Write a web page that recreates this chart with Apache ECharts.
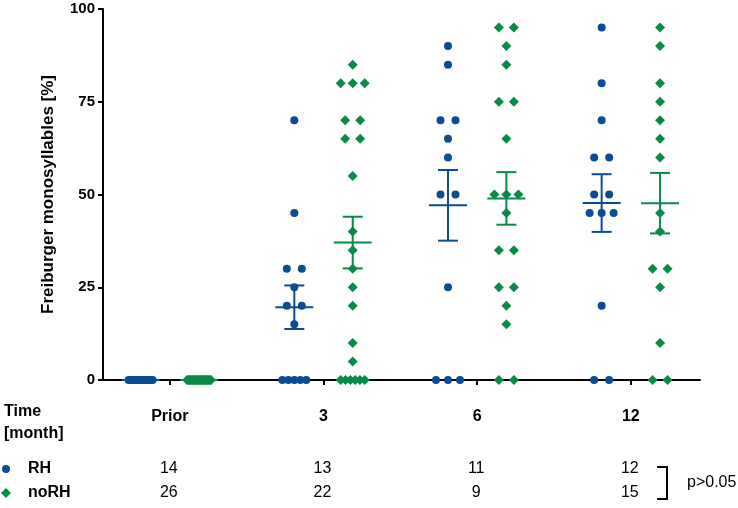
<!DOCTYPE html>
<html>
<head>
<meta charset="utf-8">
<script src="https://cdn.jsdelivr.net/npm/echarts@6/dist/echarts.min.js"></script>
<style>
  body { margin: 0; background: #fff; }
  #chart { width: 738px; height: 508px; }
</style>
</head>
<body>
<div id="chart"></div>
<script>
const groups = ['Prior', '3', '6', '12'];

// Freiburger monosyllables [%] per patient
const rhValues = [
  [0, 0, 0, 0, 0, 0, 0, 0, 0, 0, 0, 0, 0, 0],
  [70, 45, 30, 30, 25, 20, 20, 15, 0, 0, 0, 0, 0],
  [90, 85, 70, 70, 65, 60, 50, 50, 25, 0, 0, 0],
  [95, 80, 70, 60, 60, 50, 50, 45, 45, 45, 20, 0, 0]
];
const noRhValues = [
  [0, 0, 0, 0, 0, 0, 0, 0, 0, 0, 0, 0, 0, 0, 0, 0, 0, 0, 0, 0, 0, 0, 0, 0, 0, 0],
  [85, 80, 80, 80, 70, 70, 65, 65, 55, 40, 35, 30, 25, 20, 10, 5, 0, 0, 0, 0, 0, 0],
  [95, 95, 90, 85, 75, 75, 65, 50, 50, 50, 45, 35, 35, 25, 25, 20, 15, 0, 0],
  [95, 90, 80, 75, 70, 65, 60, 45, 40, 30, 30, 25, 10, 0, 0]
];

// n row of the table under the plot
const rhCounts = [14, 13, 11, 12];
const noRhCounts = [26, 22, 9, 15];
const pText = 'p>0.05';

const BLUE = '#0b4c92';
const GREEN = '#0a8a47';
const FONT = '"Liberation Sans", Arial, sans-serif';

// spread equal values sideways (pixel offsets), like a prism scatter dot plot
function swarm(vals, x) {
  const counts = {};
  vals.forEach(v => { counts[v] = (counts[v] || 0) + 1; });
  const seen = {};
  return vals.map(v => {
    const n = counts[v];
    const k = seen[v] = (seen[v] || 0) + 1;
    const span = n > 1 ? Math.min(15 * (n - 1), 24) : 0;
    const dx = n > 1 ? -span / 2 + (k - 1) * span / (n - 1) : 0;
    return { value: [x, v], symbolOffset: [dx, 0] };
  });
}

function meanSem(vals, x) {
  const n = vals.length;
  const m = vals.reduce((a, b) => a + b, 0) / n;
  const sd = Math.sqrt(vals.reduce((a, b) => a + (b - m) * (b - m), 0) / (n - 1));
  return [x, m, sd / Math.sqrt(n)];
}

const rhPoints = [], noRhPoints = [], rhBars = [], noRhBars = [];
groups.forEach((g, i) => {
  rhPoints.push(...swarm(rhValues[i], i - 0.19));
  noRhPoints.push(...swarm(noRhValues[i], i + 0.19));
  rhBars.push(meanSem(rhValues[i], i - 0.19));
  noRhBars.push(meanSem(noRhValues[i], i + 0.19));
});

function errorBar(color) {
  return function (params, api) {
    const x = api.value(0), m = api.value(1), s = api.value(2);
    const c = api.coord([x, m]);
    const t = api.coord([x, m + s]);
    const b = api.coord([x, m - s]);
    const st = { stroke: color, lineWidth: 2 };
    return {
      type: 'group',
      children: [
        { type: 'line', shape: { x1: c[0] - 19, y1: c[1], x2: c[0] + 19, y2: c[1] }, style: st },
        { type: 'line', shape: { x1: c[0], y1: t[1], x2: c[0], y2: b[1] }, style: st },
        { type: 'line', shape: { x1: c[0] - 10, y1: t[1], x2: c[0] + 10, y2: t[1] }, style: st },
        { type: 'line', shape: { x1: c[0] - 10, y1: b[1], x2: c[0] + 10, y2: b[1] }, style: st }
      ]
    };
  };
}

const chart = echarts.init(document.getElementById('chart'));

chart.setOption({
  animation: false,
  textStyle: { fontFamily: FONT },
  grid: { left: 103, right: 38, top: 9, bottom: 128 },
  xAxis: {
    type: 'value',
    min: -0.435,
    max: 3.45,
    splitLine: { show: false },
    axisLine: { onZero: false, lineStyle: { color: '#000', width: 2 } },
    axisTick: { customValues: [0, 1, 2, 3], length: 5, lineStyle: { color: '#000', width: 2 } },
    axisLabel: {
      customValues: [0, 1, 2, 3],
      formatter: v => groups[Math.round(v)],
      margin: 29,
      color: '#000',
      fontWeight: 'bold',
      fontSize: 16,
      fontFamily: FONT
    }
  },
  yAxis: {
    type: 'value',
    min: 0,
    max: 100,
    interval: 25,
    name: 'Freiburger monosyllables [%]',
    nameLocation: 'middle',
    nameGap: 46,
    nameTextStyle: { color: '#000', fontWeight: 'bold', fontSize: 17, fontFamily: FONT },
    splitLine: { show: false },
    axisLine: { show: true, onZero: false, lineStyle: { color: '#000', width: 2 } },
    axisTick: { show: true, length: 5, lineStyle: { color: '#000', width: 2 } },
    axisLabel: { margin: 8, color: '#000', fontWeight: 'bold', fontSize: 15, fontFamily: FONT }
  },
  series: [
    {
      type: 'scatter',
      name: 'RH',
      symbol: 'circle',
      symbolSize: 8,
      clip: false,
      itemStyle: { color: BLUE, opacity: 1 },
      data: rhPoints
    },
    {
      type: 'scatter',
      name: 'noRH',
      symbol: 'diamond',
      symbolSize: 10,
      clip: false,
      itemStyle: { color: GREEN, opacity: 1 },
      data: noRhPoints
    },
    {
      type: 'custom',
      clip: false,
      z: 3,
      renderItem: errorBar(BLUE),
      data: rhBars
    },
    {
      type: 'custom',
      clip: false,
      z: 3,
      renderItem: errorBar(GREEN),
      data: noRhBars
    }
  ]
});

// table under the plot
const colX = groups.map((g, i) => chart.convertToPixel({ xAxisIndex: 0 }, i));
const rowRH = 469, rowNo = 493;
const bold = { fontFamily: FONT, fontWeight: 'bold', fontSize: 16, fill: '#000', textVerticalAlign: 'middle' };
const plain = { fontFamily: FONT, fontSize: 16, fill: '#000', textVerticalAlign: 'middle', textAlign: 'center' };

const graphics = [
  { type: 'text', left: 4, top: 404, style: Object.assign({ text: 'Time' }, bold) },
  { type: 'text', left: 4, top: 426, style: Object.assign({ text: '[month]' }, bold) },
  { type: 'circle', shape: { cx: 6, cy: rowRH, r: 4 }, style: { fill: BLUE } },
  { type: 'polygon', shape: { points: [[6, rowNo - 5], [11, rowNo], [6, rowNo + 5], [1, rowNo]] }, style: { fill: GREEN } },
  { type: 'text', x: 28, y: rowRH, style: Object.assign({ text: 'RH' }, bold) },
  { type: 'text', x: 28, y: rowNo, style: Object.assign({ text: 'noRH' }, bold) },
  {
    type: 'polyline',
    shape: { points: [[657, 467], [667, 467], [667, 499], [657, 499]] },
    style: { stroke: '#000', lineWidth: 2, fill: null }
  },
  { type: 'text', x: 687, y: 483, style: { text: pText, fontFamily: FONT, fontSize: 16, fill: '#000', textVerticalAlign: 'middle' } }
];
colX.forEach((x, i) => {
  graphics.push({ type: 'text', x: x - 1, y: rowRH, style: Object.assign({ text: String(rhCounts[i]) }, plain) });
  graphics.push({ type: 'text', x: x - 1, y: rowNo, style: Object.assign({ text: String(noRhCounts[i]) }, plain) });
});

chart.setOption({ graphic: graphics });
</script>
</body>
</html>
